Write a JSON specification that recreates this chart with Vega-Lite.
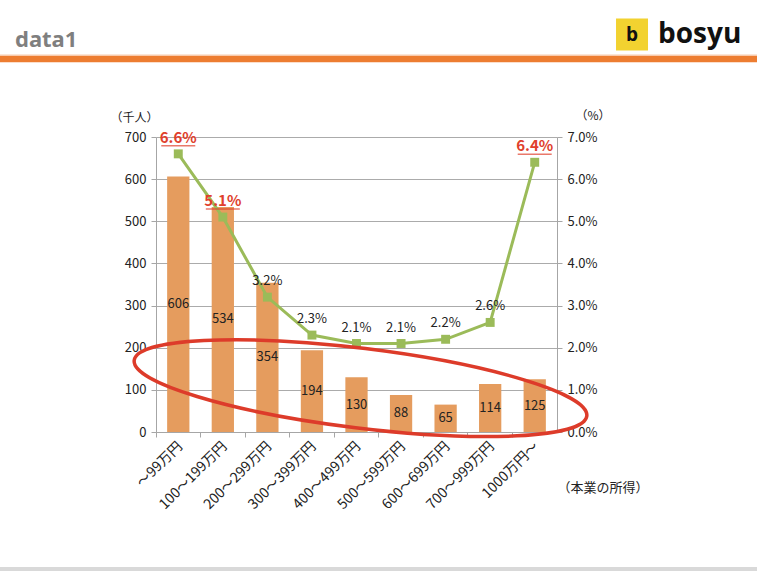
{
  "$schema": "https://vega.github.io/schema/vega-lite/v6.json",
  "background": "white",
  "padding": {"left": 0, "top": 17, "right": 0, "bottom": 0},
  "config": {"view": {"stroke": null}, "font": "Noto Sans CJK JP"},
  "datasets": {
    "income": [
      {"category": "～99万円", "count": 606, "pct": 0.066},
      {"category": "100～199万円", "count": 534, "pct": 0.051},
      {"category": "200～299万円", "count": 354, "pct": 0.032},
      {"category": "300～399万円", "count": 194, "pct": 0.023},
      {"category": "400～499万円", "count": 130, "pct": 0.021},
      {"category": "500～599万円", "count": 88, "pct": 0.021},
      {"category": "600～699万円", "count": 65, "pct": 0.022},
      {"category": "700～999万円", "count": 114, "pct": 0.026},
      {"category": "1000万円～", "count": 125, "pct": 0.064}
    ]
  },
  "spacing": 46,
  "vconcat": [
    {
      "width": 757,
      "height": 42,
      "data": {"values": [{}]},
      "layer": [
        {
          "mark": {"type": "rect", "color": "#F8CBAD"},
          "encoding": {
            "x": {"datum": 0, "type": "quantitative", "scale": {"domain": [0, 1]}, "axis": null},
            "x2": {"datum": 1},
            "y": {"datum": 0.085, "type": "quantitative", "scale": {"domain": [0, 1]}, "axis": null},
            "y2": {"datum": 0.108}
          }
        },
        {
          "mark": {"type": "rect", "color": "#ED7D31"},
          "encoding": {
            "x": {"datum": 0, "type": "quantitative", "scale": {"domain": [0, 1]}, "axis": null},
            "x2": {"datum": 1},
            "y": {"datum": -0.077, "type": "quantitative", "scale": {"domain": [0, 1]}, "axis": null},
            "y2": {"datum": 0.077}
          }
        },
        {
          "mark": {"type": "text", "text": "data1", "align": "left", "baseline": "alphabetic", "font": "Noto Sans", "fontWeight": "bold", "fontSize": 22, "color": "#7F7F7F"},
          "encoding": {
            "x": {"datum": 0.0198, "type": "quantitative", "scale": {"domain": [0, 1]}, "axis": null},
            "y": {"datum": 0.286, "type": "quantitative", "scale": {"domain": [0, 1]}, "axis": null}
          }
        },
        {
          "mark": {"type": "point", "shape": "square", "filled": true, "size": 1024, "color": "#F2D230", "opacity": 1},
          "encoding": {
            "x": {"datum": 0.8349, "type": "quantitative", "scale": {"domain": [0, 1]}, "axis": null},
            "y": {"datum": 0.583, "type": "quantitative", "scale": {"domain": [0, 1]}, "axis": null}
          }
        },
        {
          "mark": {"type": "text", "text": "b", "align": "center", "baseline": "middle", "font": "Open Sans", "fontWeight": "bold", "fontSize": 19, "color": "#111111"},
          "encoding": {
            "x": {"datum": 0.8349, "type": "quantitative", "scale": {"domain": [0, 1]}, "axis": null},
            "y": {"datum": 0.583, "type": "quantitative", "scale": {"domain": [0, 1]}, "axis": null}
          }
        },
        {
          "mark": {"type": "text", "text": "bosyu", "align": "left", "baseline": "alphabetic", "font": "Open Sans", "fontWeight": "bold", "fontSize": 28, "color": "#111111"},
          "encoding": {
            "x": {"datum": 0.8692, "type": "quantitative", "scale": {"domain": [0, 1]}, "axis": null},
            "y": {"datum": 0.381, "type": "quantitative", "scale": {"domain": [0, 1]}, "axis": null}
          }
        }
      ]
    },
    {
      "spacing": 0,
      "hconcat": [
        {
          "width": 110,
          "height": 10,
          "data": {"values": [{}]},
          "mark": {"type": "point", "opacity": 0, "size": 0, "strokeWidth": 0},
          "encoding": {}
        },
        {
          "width": 401,
          "height": 295,
          "data": {"name": "income"},
          "encoding": {
            "x": {
              "field": "category",
              "type": "nominal",
              "sort": null,
              "scale": {
                "domain": ["～99万円", "100～199万円", "200～299万円", "300～399万円", "400～499万円", "500～599万円", "600～699万円", "700～999万円", "1000万円～"],
                "paddingInner": 0,
                "paddingOuter": 0
              },
              "axis": {
                "title": "（本業の所得）",
                "titleAngle": 0,
                "titleX": 401,
                "titleY": 55,
                "titleAlign": "left",
                "titleBaseline": "middle",
                "titleFontWeight": "normal",
                "titleFontSize": 13,
                "titleColor": "#222222",
                "labelAngle": -45,
                "labelFontSize": 14,
                "labelColor": "#222222",
                "labelOffset": -3,
                "labelOverlap": false,
                "labelPadding": 2,
                "bandPosition": 0,
                "tickSize": 5,
                "tickColor": "#A6A6A6",
                "domainColor": "#A6A6A6",
                "grid": false
              }
            }
          },
          "layer": [
            {
              "mark": {"type": "bar", "color": "#E59C5E", "width": {"band": 0.5}},
              "encoding": {
                "y": {
                  "field": "count",
                  "type": "quantitative",
                  "scale": {"domain": [0, 700], "nice": false},
                  "axis": {
                    "values": [0, 100, 200, 300, 400, 500, 600, 700],
                    "title": "（千人）",
                    "titleAngle": 0,
                    "titleX": -46,
                    "titleY": -20,
                    "titleAlign": "left",
                    "titleBaseline": "middle",
                    "titleFontWeight": "normal",
                    "titleFontSize": 12,
                    "titleColor": "#222222",
                    "labelFontSize": 13,
                    "labelColor": "#222222",
                    "labelPadding": 5,
                    "tickSize": 5,
                    "tickColor": "#A6A6A6",
                    "domainColor": "#A6A6A6",
                    "grid": true,
                    "gridColor": "#ABABAB",
                    "gridWidth": 1.2
                  }
                }
              }
            },
            {
              "mark": {"type": "text", "fontSize": 13, "color": "#222222", "baseline": "middle"},
              "encoding": {
                "y": {"field": "count", "type": "quantitative", "scale": {"domain": [0, 1400], "nice": false}, "axis": null},
                "text": {"field": "count", "type": "quantitative"}
              }
            },
            {
              "encoding": {
                "y": {
                  "field": "pct",
                  "type": "quantitative",
                  "scale": {"domain": [0, 0.07], "nice": false},
                  "axis": {
                    "orient": "right",
                    "values": [0, 0.01, 0.02, 0.03, 0.04, 0.05, 0.06, 0.07],
                    "format": ".1%",
                    "title": "（%）",
                    "titleAngle": 0,
                    "titleX": 18,
                    "titleY": -22,
                    "titleAlign": "left",
                    "titleBaseline": "middle",
                    "titleFontWeight": "normal",
                    "titleFontSize": 12,
                    "titleColor": "#222222",
                    "labelFontSize": 13,
                    "labelColor": "#222222",
                    "labelPadding": 5,
                    "tickSize": 5,
                    "tickColor": "#A6A6A6",
                    "domainColor": "#A6A6A6",
                    "grid": false
                  }
                }
              },
              "layer": [
                {"mark": {"type": "line", "color": "#9BBB59", "strokeWidth": 3}},
                {"mark": {"type": "point", "shape": "square", "filled": true, "size": 80, "color": "#9BBB59", "opacity": 1}},
                {
                  "transform": [{"filter": "datum.pct < 0.05"}],
                  "mark": {"type": "text", "fontSize": 13, "color": "#222222", "baseline": "alphabetic", "dy": -12},
                  "encoding": {"text": {"field": "pct", "type": "quantitative", "format": ".1%"}}
                },
                {
                  "transform": [{"filter": "datum.pct >= 0.05"}],
                  "mark": {"type": "text", "fontSize": 15, "fontWeight": "bold", "color": "#E0402C", "baseline": "alphabetic", "dy": -11},
                  "encoding": {"text": {"field": "pct", "type": "quantitative", "format": ".1%"}}
                },
                {
                  "transform": [{"filter": "datum.pct >= 0.05"}],
                  "mark": {"type": "tick", "orient": "horizontal", "color": "#E0402C", "thickness": 1.5, "size": 34, "yOffset": -8}
                }
              ]
            },
            {
              "data": {"values": [{"category": "400～499万円", "count": 104}]},
              "mark": {
                "type": "point",
                "shape": "M -1 0 A 1 0.175 0 1 0 1 0 A 1 0.175 0 1 0 -1 0 Z",
                "size": 207936,
                "angle": 7,
                "filled": false,
                "color": "#DD3B2A",
                "strokeWidth": 3.5,
                "opacity": 1,
                "xOffset": 4
              },
              "encoding": {
                "y": {"field": "count", "type": "quantitative", "scale": {"domain": [0, 700], "nice": false}, "axis": null}
              }
            }
          ],
          "resolve": {"scale": {"y": "independent"}}
        }
      ]
    },
    {
      "width": 757,
      "height": 11,
      "data": {"values": [{}]},
      "mark": {"type": "rect", "color": "#D9D9D9"},
      "encoding": {
        "x": {"datum": 0, "type": "quantitative", "scale": {"domain": [0, 1]}, "axis": null},
        "x2": {"datum": 1},
        "y": {"datum": -0.18, "type": "quantitative", "scale": {"domain": [0, 1]}, "axis": null},
        "y2": {"datum": 0.18}
      }
    }
  ]
}
